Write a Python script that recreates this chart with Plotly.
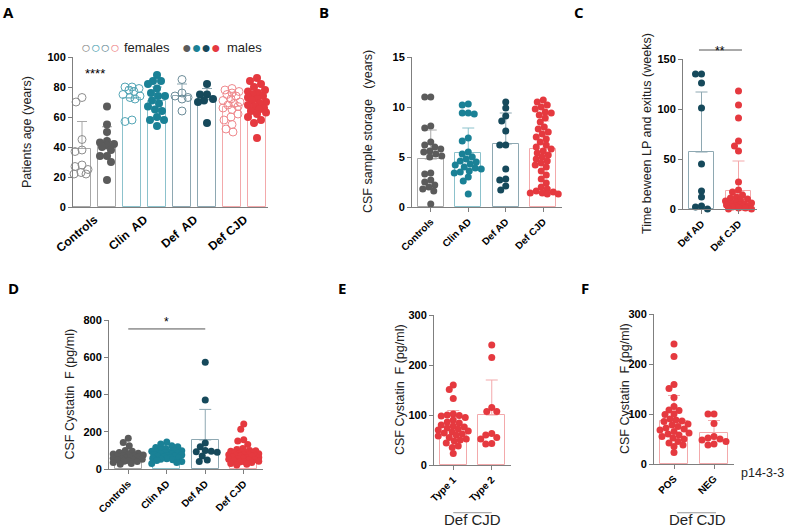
import plotly.graph_objects as go

W, H = 787, 532

# ---------------- data ----------------
# Panel A: patients age, by group and sex
A_groups = ["Controls", "Clin  AD", "Def  AD", "Def CJD"]
A_ctrl_f = [73, 70, 45, 38, 37, 28, 27, 25, 23, 22, 22]
A_ctrl_m = [67, 55, 50, 44, 43, 42, 41, 40, 38, 34, 34, 30, 18]
A_clin_f = [80, 80, 79, 78, 77, 75, 74, 73, 72, 57, 58]
A_clin_m = [88, 84, 84, 82, 79, 76, 74, 74, 71, 69, 67, 65, 64, 60, 58, 58, 54]
A_defad_f = [85, 76, 74, 73, 72, 64]
A_defad_m = [82, 75, 75, 72, 71, 70, 56]
A_cjd_f = [79, 78, 77, 76, 75, 74, 72, 71, 70, 69, 68, 67, 66, 65, 62, 60, 58, 55, 52, 50]
A_cjd_m = [86, 84, 82, 80, 78, 77, 76, 75, 74, 73, 72, 71, 70, 69, 68, 67, 66, 65,
           64, 63, 62, 60, 58, 56, 46]
A_means = [39, 41, 72.5, 71, 74, 71.5, 67, 69]
A_sds = [18, 12.5, 7, 9, 8, 7.5, 9, 9]

# Panel B: CSF sample storage (years)
B_groups = ["Controls", "Clin AD", "Def AD", "Def CJD"]
B_ctrl = [11.0, 11.0, 8.1, 7.9, 6.5, 6.2, 6.0, 5.8, 5.6, 5.5, 5.3, 5.1, 5.0, 3.4, 3.3,
          2.7, 2.5, 2.2, 2.0, 1.8, 1.6, 0.3]
B_clin = [10.3, 10.2, 9.4, 9.4, 9.3, 6.9, 6.6, 5.5, 5.3, 5.0, 4.8, 4.6, 4.5, 4.3, 4.2,
          4.0, 3.9, 3.8, 3.6, 3.5, 3.4, 3.0, 2.6, 1.3]
B_defad = [10.5, 9.9, 9.1, 8.6, 7.6, 6.2, 6.2, 3.8, 2.8, 2.7, 2.1, 1.7]
B_cjd = [10.7, 10.5, 10.2, 10.0, 9.8, 9.5, 9.4, 9.2, 8.9, 8.5, 8.0, 7.8, 7.5, 7.3, 7.0,
         6.8, 6.5, 6.2, 6.0, 5.8, 5.6, 5.4, 5.2, 5.0, 4.8, 4.6, 4.4, 4.2, 4.0, 3.6, 3.2,
         2.8, 2.4, 2.0, 1.8, 1.6, 1.5, 1.4, 1.3, 1.3, 1.4]
B_means = [4.8, 5.4, 6.3, 5.8]
B_sds = [2.9, 2.5, 3.1, 2.8]

# Panel C: time between LP and exitus (weeks)
C_groups = ["Def AD", "Def CJD"]
C_defad = [135, 135, 126, 101, 45, 18, 12, 3, 2, 0]
C_cjd = [118, 104, 91, 68, 63, 58, 27, 19, 17, 14, 12, 11, 10, 9, 8, 7, 6, 5, 5, 4,
         4, 3, 3, 2, 2, 1, 1, 0, 0]
C_means = [57, 18]
C_sds = [60, 30]

# Panel D: CSF Cystatin F (pg/ml)
D_groups = ["Controls", "Clin AD", "Def AD", "Def CJD"]
D_ctrl = [165, 142, 125, 100, 95, 88, 85, 80, 78, 75, 72, 70, 68, 65, 62, 60, 58, 55,
          52, 50, 48, 45, 42, 40, 35, 30, 25]
D_clin = [145, 134, 125, 120, 115, 110, 105, 100, 98, 95, 92, 90, 88, 85, 82, 80, 78,
          75, 72, 70, 68, 65, 62, 60, 58, 55, 52, 50, 45, 40, 35, 30]
D_defad = [573, 370, 140, 120, 100, 95, 93, 90, 70, 48, 40]
D_cjd = [242, 213, 157, 150, 131, 110, 105, 100, 98, 95, 92, 90, 88, 85, 82, 80, 78,
         76, 75, 73, 72, 70, 68, 65, 62, 60, 58, 55, 52, 50, 48, 45, 42, 40, 38, 35,
         30, 25, 22]
D_means = [66, 75, 156, 79]
D_sds = [35, 30, 164, 42]

# Panel E: Def CJD by type
E_groups = ["Type 1", "Type 2"]
E_t1 = [160, 151, 133, 102, 100, 99, 98, 95, 90, 86, 84, 80, 78, 76, 74, 72, 70, 68,
        66, 64, 62, 60, 58, 55, 52, 50, 48, 44, 38, 35, 23]
E_t2 = [240, 215, 115, 107, 107, 63, 60, 55, 52, 43, 42]
E_means = [75, 100]
E_sds = [34, 70]

# Panel F: Def CJD by p14-3-3
F_groups = ["POS", "NEG"]
F_pos = [240, 215, 159, 151, 133, 115, 108, 107, 100, 99, 90, 88, 86, 85, 80, 78, 75,
         72, 70, 68, 65, 62, 60, 58, 55, 52, 50, 45, 42, 38, 35, 23]
F_neg = [100, 100, 81, 55, 52, 50, 48, 45, 40, 38]
F_means = [86, 63]
F_sds = [51, 24]

# ---------------- styles ----------------
C_CTRL, C_CLIN, C_DEFAD, C_CJD = "#5b5b5b", "#1a8196", "#16495b", "#e5393f"
F_CTRL, F_CLIN, F_DEFAD, F_CJD = "#8e8e8e", "#55a6b6", "#6d8d99", "#ef8a8e"
B_CTRL, B_CLIN, B_DEFAD, B_CJD = "#a8a8a8", "#8cc2cc", "#8ea8b2", "#f3a9ab"
AXC = "#7f7f7f"
FONT = "Liberation Sans"


def px_dom(a, b, total):
    return [a / total, b / total]


def ydom(top_px, bot_px):
    return [1 - bot_px / H, 1 - top_px / H]


def swarm(vals, ppu_y, ppu_x, d, maxw):
    """deterministic beeswarm offsets (in x units)"""
    order = sorted(range(len(vals)), key=lambda i: -vals[i])
    placed, res = [], [0.0] * len(vals)
    cands = sorted(range(-int(maxw), int(maxw) + 1), key=lambda v: (abs(v), v))
    thr = d * 0.85
    for i in order:
        y = vals[i] * ppu_y
        best, bestd = 0, -1
        for x in cands:
            md = min([((x - px) ** 2 + (y - py) ** 2) ** 0.5 for px, py in placed] or [1e9])
            if md >= thr:
                best = x
                break
            if md > bestd + 0.5:
                best, bestd = x, md
        placed.append((best, y))
        res[i] = best / ppu_x
    return res


fig = go.Figure()


def add_bar(ax, ay, x, mean, sd, col, width, capw):
    fig.add_trace(go.Bar(
        x=[x], y=[mean], width=width, xaxis=ax, yaxis=ay, showlegend=False,
        marker=dict(color="white", line=dict(color=col, width=1)),
        error_y=dict(type="data", symmetric=False, array=[sd], arrayminus=[0],
                     color=col, thickness=1, width=capw)))


def add_pts(ax, ay, x, vals, col, ppu_y, ppu_x, d, maxw, open_=False):
    offs = swarm(vals, ppu_y, ppu_x, d, maxw)
    if open_:
        mk = dict(symbol="circle-open", size=d, color=col, line=dict(width=1, color=col))
    else:
        mk = dict(symbol="circle", size=d, color=col, line=dict(width=0))
    fig.add_trace(go.Scatter(
        x=[x + o for o in offs], y=vals, mode="markers", marker=mk, cliponaxis=False,
        xaxis=ax, yaxis=ay, showlegend=False, hoverinfo="y"))


# ---- Panel A ----
A_sets = [(A_ctrl_f, F_CTRL, B_CTRL, True), (A_ctrl_m, C_CTRL, B_CTRL, False),
          (A_clin_f, F_CLIN, B_CLIN, True), (A_clin_m, C_CLIN, B_CLIN, False),
          (A_defad_f, F_DEFAD, B_DEFAD, True), (A_defad_m, C_DEFAD, B_DEFAD, False),
          (A_cjd_f, F_CJD, B_CJD, True), (A_cjd_m, C_CJD, B_CJD, False)]
for i, (vals, pc, bc, op) in enumerate(A_sets):
    add_bar("x", "y", i, A_means[i], A_sds[i], bc, 0.72, 5)
for i, (vals, pc, bc, op) in enumerate(A_sets):
    add_pts("x", "y", i, vals, pc, 1.5, 25, 8, 9, open_=op)


def simple_panel(ax, ay, sets, means, sds, ppu_y, ppu_x, d=7, bw=0.7, maxw=15):
    for i, (vals, pc, bc) in enumerate(sets):
        add_bar(ax, ay, i, means[i], sds[i], bc, bw, 6)
    for i, (vals, pc, bc) in enumerate(sets):
        add_pts(ax, ay, i, vals, pc, ppu_y, ppu_x, d, maxw)


simple_panel("x2", "y2", [(B_ctrl, C_CTRL, B_CTRL), (B_clin, C_CLIN, B_CLIN),
                          (B_defad, C_DEFAD, B_DEFAD), (B_cjd, C_CJD, B_CJD)],
             B_means, B_sds, 10, 37.5)
simple_panel("x3", "y3", [(C_defad, C_DEFAD, B_DEFAD), (C_cjd, C_CJD, B_CJD)],
             C_means, C_sds, 1.0, 37, maxw=13)
simple_panel("x4", "y4", [(D_ctrl, C_CTRL, B_CTRL), (D_clin, C_CLIN, B_CLIN),
                          (D_defad, C_DEFAD, B_DEFAD), (D_cjd, C_CJD, B_CJD)],
             D_means, D_sds, 149 / 800, 38.5)
simple_panel("x5", "y5", [(E_t1, C_CJD, B_CJD), (E_t2, C_CJD, B_CJD)],
             E_means, E_sds, 0.5, 38.5)
simple_panel("x6", "y6", [(F_pos, C_CJD, B_CJD), (F_neg, C_CJD, B_CJD)],
             F_means, F_sds, 0.5, 40)


# ---------------- axes ----------------
def xax(dom, anchor, rng, tickvals, ticktext, angle=-45, size=10, ticks="outside"):
    return dict(domain=dom, anchor=anchor, range=rng, tickvals=tickvals, ticktext=ticktext,
                tickangle=angle, showline=True, linecolor=AXC, linewidth=1, ticks=ticks,
                ticklen=4, tickcolor=AXC, showgrid=False, zeroline=False, fixedrange=True,
                automargin=False,
                tickfont=dict(family=FONT, size=size, color="black", weight="bold"))


def yax(dom, anchor, rng, dtick):
    return dict(domain=dom, anchor=anchor, range=rng, dtick=dtick, showline=True,
                linecolor=AXC, linewidth=1, ticks="outside", ticklen=4, tickcolor=AXC,
                showgrid=False, zeroline=False, fixedrange=True, automargin=False,
                tickfont=dict(family=FONT, size=11, color="black", weight="bold"))


yA = ydom(57, 207)
yC = ydom(59, 209)
yD = ydom(320, 469)
yE = ydom(315, 465)
yF = ydom(314, 464)

fig.update_layout(
    xaxis=xax(px_dom(73, 268, W), "y", [-0.36, 7.44], [0.5, 2.5, 4.5, 6.5], A_groups,
              angle=-40, size=12, ticks=""),
    yaxis=yax(yA, "x", [0, 100], 20),
    xaxis2=xax(px_dom(412, 562, W), "y2", [-0.5, 3.5], [0, 1, 2, 3], B_groups),
    yaxis2=yax(yA, "x2", [0, 15], 5),
    xaxis3=xax(px_dom(683, 757, W), "y3", [-0.5, 1.5], [0, 1], C_groups),
    yaxis3=yax(yC, "x3", [0, 150], 50),
    xaxis4=xax(px_dom(109, 263, W), "y4", [-0.5, 3.5], [0, 1, 2, 3], D_groups),
    yaxis4=yax(yD, "x4", [0, 800], 200),
    xaxis5=xax(px_dom(434, 511, W), "y5", [-0.5, 1.5], [0, 1], E_groups),
    yaxis5=yax(yE, "x5", [0, 300], 100),
    xaxis6=xax(px_dom(654, 734, W), "y6", [-0.5, 1.5], [0, 1], F_groups),
    yaxis6=yax(yF, "x6", [0, 300], 100),
    width=W, height=H, margin=dict(l=0, r=0, t=0, b=0, pad=0, autoexpand=False),
    paper_bgcolor="white", plot_bgcolor="white", bargap=0, barmode="overlay",
    font=dict(family=FONT, color="black"),
)

ann = []


def ylabel(text, xpx, yref):
    ann.append(dict(text=text, x=xpx / W, xref="paper", y=0.5, yref=yref, textangle=-90,
                    showarrow=False, font=dict(family=FONT, size=12.5, color="#222"),
                    xanchor="center", yanchor="middle"))


ylabel("Patients age (years)", 27, "y domain")
ylabel("CSF sample storage   (years)", 368, "y2 domain")
ylabel("Time beween LP and exitus (weeks)", 647, "y3 domain")
ylabel("CSF Cystatin  F (pg/ml)", 69, "y4 domain")
ylabel("CSF Cystatin  F (pg/ml)", 400, "y5 domain")
ylabel("CSF Cystatin  F (pg/ml)", 625, "y6 domain")

for lab, xp, yp in [("A", 8, 0.5), ("B", 324, 0.5), ("C", 579, 0.5),
                    ("D", 13, 276), ("E", 342, 276), ("F", 585, 276)]:
    ann.append(dict(text="<b>%s</b>" % lab, x=xp / W, y=1 - yp / H, xref="paper",
                    yref="paper", showarrow=False, xanchor="center", yanchor="top",
                    font=dict(family="Open Sans", size=15, color="black")))

# legend of panel A
leg = ('<span style="color:%s">○</span><span style="color:%s">○</span>'
       '<span style="color:%s">○</span><span style="color:%s">○</span>'
       % (F_CTRL, F_CLIN, F_DEFAD, F_CJD))
legm = ('<span style="color:%s">●</span><span style="color:%s">●</span>'
        '<span style="color:%s">●</span><span style="color:%s">●</span>'
        % (C_CTRL, C_CLIN, C_DEFAD, C_CJD))
ann.append(dict(text=leg, x=79 / W, y=1 - 47 / H, xref="paper", yref="paper",
                showarrow=False, xanchor="left", yanchor="middle",
                font=dict(family=FONT, size=16)))
ann.append(dict(text="females", x=122 / W, y=1 - 47 / H, xref="paper", yref="paper",
                showarrow=False, xanchor="left", yanchor="middle",
                font=dict(family=FONT, size=13, color="#222")))
ann.append(dict(text=legm, x=180 / W, y=1 - 47 / H, xref="paper", yref="paper",
                showarrow=False, xanchor="left", yanchor="middle",
                font=dict(family=FONT, size=16)))
ann.append(dict(text="males", x=225 / W, y=1 - 47 / H, xref="paper", yref="paper",
                showarrow=False, xanchor="left", yanchor="middle",
                font=dict(family=FONT, size=13, color="#222")))

# significance marks
ann.append(dict(text="****", x=0.5, y=89, xref="x", yref="y", showarrow=False,
                font=dict(family=FONT, size=13, color="black")))
ann.append(dict(text="**", x=0.5, y=1.115, xref="x3 domain", yref="y3 domain",
                showarrow=False, font=dict(family=FONT, size=12, color="black")))
ann.append(dict(text="*", x=1, y=790, xref="x4", yref="y4", showarrow=False,
                font=dict(family=FONT, size=12, color="black")))

# group labels under E and F
ann.append(dict(text="Def CJD", x=0.5, y=-0.43, xref="x5 domain", yref="y5 domain",
                showarrow=False, font=dict(family=FONT, size=15, color="#222")))
ann.append(dict(text="Def CJD", x=0.54, y=-0.44, xref="x6 domain", yref="y6 domain",
                showarrow=False, font=dict(family=FONT, size=15, color="#222")))
ann.append(dict(text="p14-3-3", x=786 / W, y=-0.12, xref="paper", yref="y6 domain",
                showarrow=False, xanchor="right",
                font=dict(family=FONT, size=12.5, color="#222")))
fig.update_layout(annotations=ann)

shapes = [
    dict(type="line", x0=0.216, x1=0.797, y0=1.06, y1=1.06, xref="x3 domain",
         yref="y3 domain", line=dict(color="#555", width=1)),
    dict(type="line", x0=0, x1=2, y0=752, y1=752, xref="x4", yref="y4",
         line=dict(color="#555", width=1)),
    dict(type="line", x0=0.25, x1=0.75, y0=-0.318, y1=-0.318, xref="x5 domain",
         yref="y5 domain", line=dict(color="#999", width=1)),
    dict(type="line", x0=0.29, x1=0.775, y0=-0.325, y1=-0.325, xref="x6 domain",
         yref="y6 domain", line=dict(color="#999", width=1)),
]
fig.update_layout(shapes=shapes)

fig.write_html("out.html", config={"displayModeBar": False},
               post_script="document.body.style.margin='0';"
                           "document.body.style.overflow='hidden';")
